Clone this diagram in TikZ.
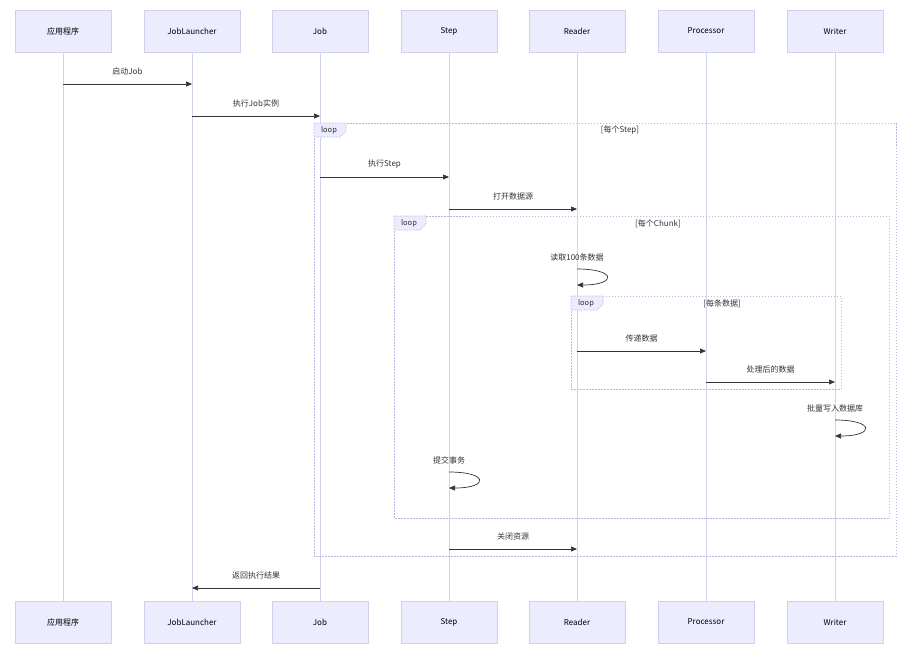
\documentclass[tikz,border=0pt]{standalone}
\usepackage{fontspec}
\setmainfont{Noto Sans CJK SC}
\usetikzlibrary{arrows.meta}
\definecolor{actfill}{HTML}{ECECFF}
\definecolor{actline}{HTML}{CFCFF0}
\definecolor{life}{HTML}{D4D0F0}
\definecolor{loopc}{HTML}{B8B4E0}
\definecolor{txt}{HTML}{333333}
\tikzset{
  actor/.style={draw=actline,fill=actfill,minimum width=96pt,minimum height=42pt,inner sep=0pt,font=\fontsize{8}{10}\selectfont,text=black},
  msg/.style={draw=txt,line width=0.7pt,-{Triangle[length=6pt,width=5pt]}},
  lbl/.style={font=\fontsize{8}{10}\selectfont,text=txt,inner sep=0pt},
  lifeline/.style={draw=life,line width=0.8pt},
  loopbox/.style={draw=loopc,dash pattern=on 1.5pt off 1.5pt,line width=0.7pt},
}
\begin{document}
\begin{tikzpicture}[x=1pt,y=-1pt]
\useasboundingbox (0,0) rectangle (900,662);
\foreach \n/\x/\t in {a/63/应用程序,b/192/JobLauncher,c/320/Job,d/449/Step,e/577/Reader,f/706/Processor,g/835/Writer}{
  \draw[lifeline] (\x,52) -- (\x,601);
  \node[actor] (\n top) at (\x,31) {\t};
  \node[actor] (\n bot) at (\x,622) {\t};
  \coordinate (\n) at (\x,0);
}
% loops
\foreach \x/\y/\X/\Y/\lx/\lt in {314/123/896/556/620/{[每个Step]},394/216/889/518/658/{[每个Chunk]},571/296/841/389/722/{[每条数据]}}{
  \draw[loopbox] (\x,\y) rectangle (\X,\Y);
  \draw[loopbox,fill=actfill] (\x,\y) -- (\x+32,\y) -- (\x+32,\y+8) -- (\x+26,\y+14) -- (\x,\y+14) -- cycle;
  \node[lbl,font=\fontsize{7.5}{9}\selectfont] at (\x+15,\y+7.5) {loop};
  \node[lbl] at (\lx,\y+7.5) {\lt};
}
\newcommand\mymsg[4]{% from, to, y, label
  \draw[msg] (#1|-0,#3) -- (#2|-0,#3);
  \path (#1|-0,#3) -- node[lbl,pos=0.5,yshift=13pt] {#4} (#2|-0,#3);
}
\mymsg{a}{b}{84}{启动Job}
\mymsg{b}{c}{116}{执行Job实例}
\mymsg{c}{d}{177}{执行Step}
\mymsg{d}{e}{209}{打开数据源}
\mymsg{e}{f}{351}{传递数据}
\mymsg{f}{g}{382}{处理后的数据}
\mymsg{d}{e}{549}{关闭资源}
\mymsg{c}{b}{588}{返回执行结果}
\newcommand\myself[3]{% who, y, label
  \node[lbl] at (#1|-0,#2-12) {#3};
  \draw[msg] (#1|-0,#2) .. controls ([xshift=40pt]#1|-0,#2) and ([xshift=40pt]#1|-0,#2+16) .. (#1|-0,#2+16);
}
\myself{e}{269}{读取100条数据}
\myself{g}{420}{批量写入数据库}
\myself{d}{472}{提交事务}
\end{tikzpicture}
\end{document}
